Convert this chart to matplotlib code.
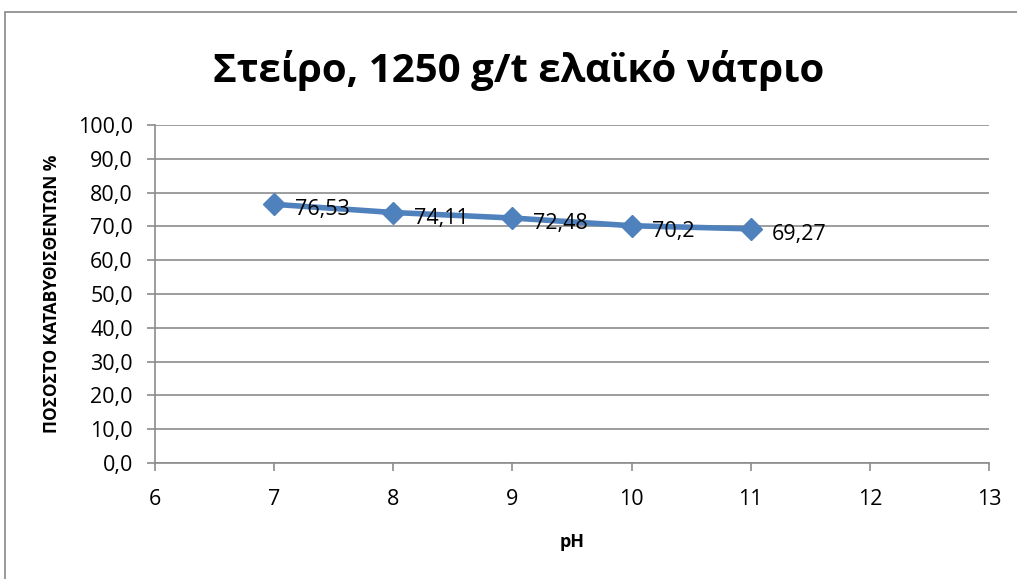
import matplotlib
matplotlib.use("Agg")
import matplotlib.pyplot as plt
from matplotlib.patches import Rectangle

# data
ph = [7, 8, 9, 10, 11]
recovery = [76.53, 74.11, 72.48, 70.2, 69.27]
point_labels = ["76,53", "74,11", "72,48", "70,2", "69,27"]
x_ticks = [6, 7, 8, 9, 10, 11, 12, 13]
y_ticks = [0, 10, 20, 30, 40, 50, 60, 70, 80, 90, 100]

title = "Στείρο, 1250 g/t ελαϊκό νάτριο"
x_label = "pH"
y_label = "ΠΟΣΟΣΤΟ ΚΑΤΑΒΥΘΙΣΘΕΝΤΩΝ %"

plt.rcParams['font.family'] = ['Open Sans', 'DejaVu Sans']

fig = plt.figure(figsize=(10.17, 5.79), dpi=100)
ax = fig.add_axes([155 / 1017, 1 - 463 / 579, (989 - 155) / 1017, (463 - 125) / 579])

# outer chart border
fig.patches.append(Rectangle((5 / 1017, -0.1), 1.2, 1 - 12 / 579 + 0.1,
                             transform=fig.transFigure, fill=False,
                             edgecolor='#888888', linewidth=1.2))

ax.plot(ph, recovery, color='#4F81BD', linewidth=4, marker='D',
        markersize=11, markerfacecolor='#4F81BD', markeredgecolor='#4F81BD',
        zorder=3)
for x, y, s in zip(ph, recovery, point_labels):
    ax.annotate(s, (x, y), xytext=(15, -4), textcoords='offset points',
                ha='left', va='center', fontsize=15.5, color='black')

ax.set_xlim(6, 13)
ax.set_ylim(0, 100)
ax.set_xticks(x_ticks)
ax.set_yticks(y_ticks)
ax.set_yticklabels([f"{v:.1f}".replace('.', ',') for v in y_ticks])
ax.yaxis.grid(True, color='#8C8C8C', linewidth=1.2)
ax.set_axisbelow(True)
for side in ['top', 'right']:
    ax.spines[side].set_visible(False)
for side in ['left', 'bottom']:
    ax.spines[side].set_color('#8C8C8C')
    ax.spines[side].set_linewidth(1.2)
ax.tick_params(axis='both', colors='#8C8C8C', labelcolor='black',
               labelsize=15.5, length=6, width=1.2)
ax.tick_params(axis='x', pad=13)
ax.tick_params(axis='y', pad=10)

ax.set_xlabel(x_label, fontsize=13, fontweight='bold', labelpad=16)
ax.set_ylabel(y_label, fontsize=12.5, fontweight='bold', labelpad=12)
fig.text(0.51, 1 - 70 / 579, title, ha='center', va='center',
         fontsize=29, fontweight='bold')

fig.savefig("out.png", dpi=100)
